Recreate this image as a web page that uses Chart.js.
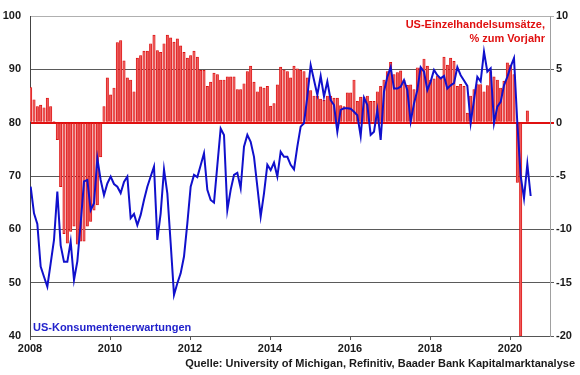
<!DOCTYPE html>
<html>
<head>
<meta charset="utf-8">
<script src="https://cdn.jsdelivr.net/npm/chart.js@4.4.0/dist/chart.umd.min.js"></script>
<style>
  html, body { margin: 0; padding: 0; background: #fff; }
</style>
</head>
<body>
<canvas id="chart" width="580" height="375"></canvas>
<script>
// DATA (monthly, starting Jan 2008)
const startYear = 2008;
const yearTicks = [2008, 2010, 2012, 2014, 2016, 2018, 2020];

// US-Einzelhandelsumsätze, % zum Vorjahr (Jan 2008 - Jun 2020; May 2020 not visible)
const retailSales = [
  3.3, 2.15, 1.5, 1.65, 1.4, 2.3, 1.5, 0.1, -1.6, -6.0, -10.4, -11.3,
  -10.2, -9.7, -11.4, -11.1, -11.1, -9.7, -9.25, -8.2, -7.7, -3.2, 1.5, 4.2,
  2.6, 3.25, 7.5, 7.7, 5.8, 4.2, 4.0, 2.9, 6.05, 6.3, 6.7, 6.7,
  7.4, 8.2, 6.75, 6.6, 7.4, 8.2, 7.95, 7.55, 7.85, 7.2, 6.6, 6.05,
  6.3, 6.7, 6.15, 4.9, 4.9, 3.4, 3.8, 4.65, 4.5, 4.0, 4.0, 4.3,
  4.3, 4.3, 3.1, 3.1, 3.65, 4.8, 5.3, 3.8, 2.9, 3.35, 3.25, 3.4,
  1.55, 1.8, 3.55, 5.2, 4.95, 4.8, 4.2, 5.3, 5.05, 4.9, 4.8, 4.2,
  3.0, 2.5, 2.5, 2.2, 2.1, 2.5, 2.5, 2.3, 2.3, 1.6, 1.5, 2.8,
  2.8, 4.0, 2.0, 2.4, 2.4, 2.5, 2.0, 2.0, 2.9, 3.4, 4.0, 4.8,
  5.65, 4.5, 4.7, 4.85, 4.0, 3.5, 3.55, 3.1, 5.15, 5.15, 5.97, 5.3,
  4.0, 4.1, 4.4, 4.2, 6.15, 5.4, 6.06, 5.75, 3.4, 3.6, 3.4, 0.9,
  2.5, 3.1, 3.56, 3.56, 2.9, 3.47, 4.8, 4.3, 4.0, 3.25, 3.9, 5.6,
  5.4, 4.5, -5.6, -20, null, 1.1
];

// US-Konsumentenerwartungen (Jan 2008 - Jul 2020)
const expectations = [
  68.0, 63.0, 61.0, 53.0, 51.1, 49.25, 53.6, 58.0, 67.1, 57.0, 53.9, 53.9,
  57.7, 50.5, 54.0, 61.1, 69.0, 69.25, 63.6, 64.9, 73.3, 69.25, 66.4, 68.6,
  69.9, 68.5, 68.0, 66.8, 68.9, 69.9, 62.1, 62.9, 60.8, 62.7, 65.5, 68.0,
  69.9, 71.75, 58.0, 63.0, 71.25, 66.75, 57.4, 47.7, 49.9, 51.75, 54.9, 61.1,
  68.0, 70.2, 69.8, 72.0, 74.25, 67.4, 65.5, 65.0, 72.0, 78.9, 77.7, 63.6,
  67.4, 70.2, 70.6, 67.7, 75.5, 77.7, 76.4, 73.6, 68.0, 62.4, 66.75, 72.1,
  71.1, 72.5, 69.9, 74.55, 73.6, 73.6, 72.1, 71.25, 75.5, 79.25, 79.9, 84.9,
  90.8, 88.0, 85.2, 88.75, 84.9, 87.7, 84.25, 83.3, 78.3, 82.4, 82.7, 82.7,
  82.6, 82.05, 81.4, 77.5, 84.7, 83.3, 77.7, 78.3, 82.4, 76.75, 85.8, 88.6,
  90.4, 86.4, 86.4, 86.75, 88.0, 86.1, 80.2, 83.6, 86.1, 90.4, 89.55, 86.1,
  87.7, 89.9, 88.9, 88.3, 88.75, 86.4, 87.0, 87.4, 90.4, 88.9, 87.9, 86.9,
  79.9, 84.25, 88.6, 87.7, 93.3, 89.55, 90.2, 79.9, 83.0, 83.9, 87.0, 88.6,
  90.5, 92.1, 79.9, 70.0, 65.8, 72.25, 66.25
];

const monthX = i => startYear + (i + 0.2) / 12;

const RED = '#e01010';
const BLUE = '#1010cc';

Chart.defaults.font.family = '"Liberation Sans", Arial, sans-serif';
Chart.defaults.font.size = 11;
Chart.defaults.font.weight = 'bold';
Chart.defaults.color = '#1a1a1a';

// extra labels drawn on the canvas
const labelPlugin = {
  id: 'labels',
  afterDraw(chart) {
    const ctx = chart.ctx;
    ctx.save();
    ctx.font = 'bold 11px "Liberation Sans", Arial, sans-serif';
    ctx.textBaseline = 'middle';
    ctx.fillStyle = RED;
    ctx.textAlign = 'right';
    ctx.fillText('US-Einzelhandelsumsätze,', 545, 25);
    ctx.fillText('% zum Vorjahr', 545, 38.5);
    ctx.fillStyle = '#2222cc';
    ctx.textAlign = 'left';
    ctx.fillText('US-Konsumentenerwartungen', 33, 328);
    ctx.fillStyle = '#1a1a1a';
    ctx.textAlign = 'right';
    ctx.fillText('Quelle: University of Michigan, Refinitiv, Baader Bank Kapitalmarktanalyse', 575, 364);
    ctx.restore();
  }
};

new Chart(document.getElementById('chart'), {
  data: {
    datasets: [
      {
        type: 'line',
        label: 'US-Konsumentenerwartungen',
        data: expectations.map((v, i) => ({ x: monthX(i), y: v })),
        borderColor: BLUE,
        borderWidth: 2,
        pointRadius: 0,
        tension: 0,
        yAxisID: 'y',
        order: 0
      },
      {
        type: 'bar',
        label: 'US-Einzelhandelsumsätze',
        data: retailSales.map((v, i) => ({ x: monthX(i), y: v })),
        backgroundColor: '#ee5a5a',
        borderColor: '#d80000',
        borderWidth: 0.7,
        barThickness: 2.4,
        yAxisID: 'y2',
        order: 1
      }
    ]
  },
  options: {
    responsive: false,
    animation: false,
    layout: { padding: { top: 16, left: 0, right: 0, bottom: 0 } },
    plugins: { legend: { display: false }, tooltip: { enabled: false } },
    scales: {
      x: {
        type: 'linear',
        offset: false,
        min: 2008,
        max: 2021,
        afterBuildTicks: s => { s.ticks = yearTicks.map(v => ({ value: v })); },
        afterFit: s => { s.height = 39; },
        grid: { drawOnChartArea: false, offset: false, tickLength: 4, color: '#555' },
        border: { color: '#555' },
        ticks: { autoSkip: false, maxRotation: 0, padding: 2, callback: v => String(v) }
      },
      y: {
        position: 'left',
        min: 40,
        max: 100,
        ticks: { stepSize: 10, padding: 9 },
        afterFit: s => { s.width = 30; },
        grid: { display: false, drawTicks: false, tickLength: 0 },
        border: { color: '#444' }
      },
      y2: {
        position: 'right',
        min: -20,
        max: 10,
        ticks: { stepSize: 5, padding: 2 },
        afterFit: s => { s.width = 30; },
        grid: {
          color: c => c.tick.value === 0 ? RED : (c.tick.value === 10 ? '#b0b0b0' : '#5a5a5a'),
          lineWidth: c => c.tick.value === 0 ? 2 : 1,
          tickLength: 4
        },
        border: { color: '#a0a0a0' }
      }
    }
  },
  plugins: [labelPlugin]
});
</script>
</body>
</html>
